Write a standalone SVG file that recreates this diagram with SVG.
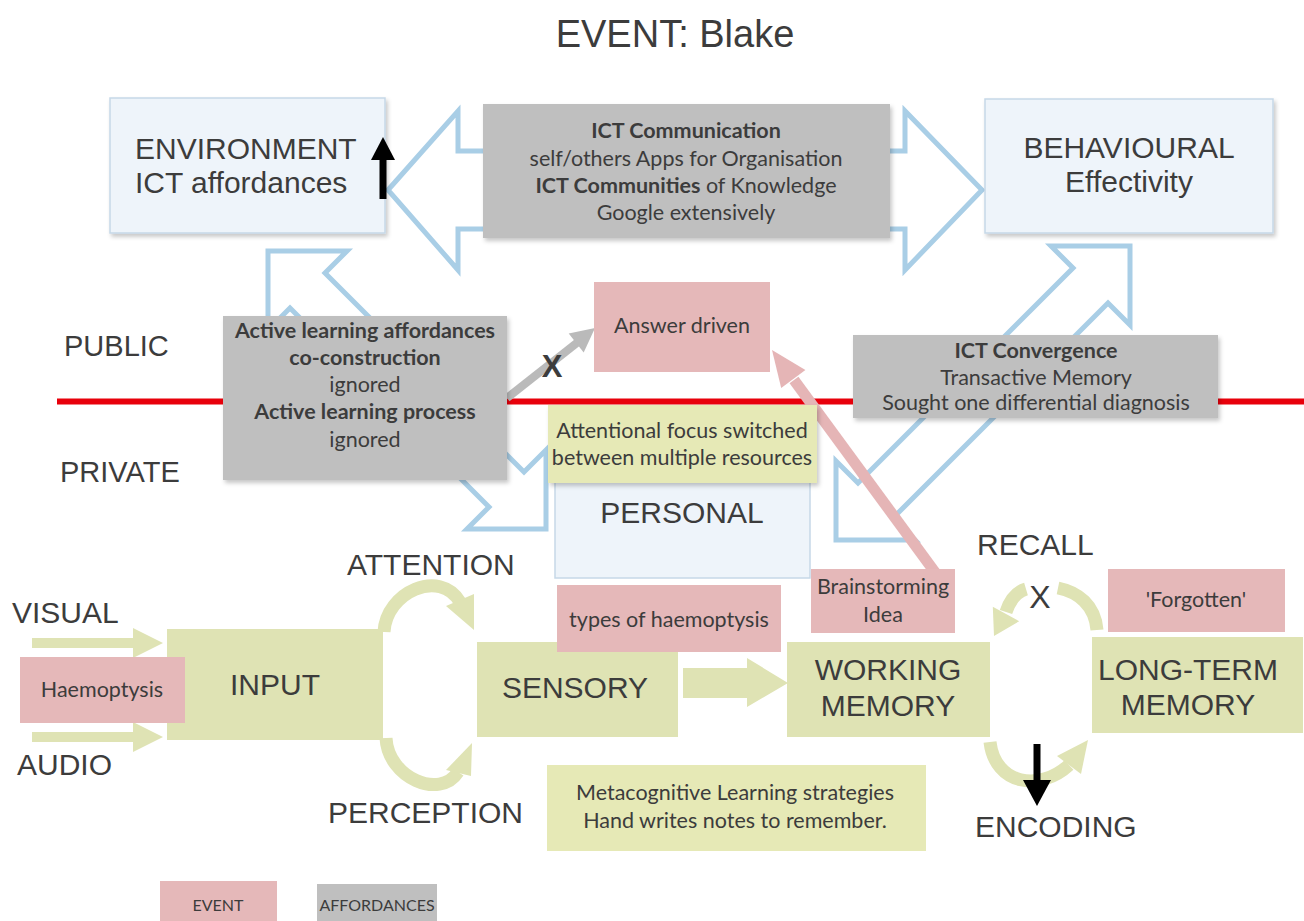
<svg xmlns="http://www.w3.org/2000/svg" width="1304" height="921" viewBox="0 0 1304 921">
  <defs>
    <filter id="shadow" x="-10%" y="-10%" width="120%" height="130%">
      <feDropShadow dx="2" dy="3" stdDeviation="2" flood-color="#000" flood-opacity="0.22"/>
    </filter>
    <style>
      .sans { font-family: "Liberation Sans", Arial, sans-serif; fill: #3c3c3c; }
      .cal { font-family: Lato, "Open Sans", sans-serif; fill: #3c3c3c; font-size: 21.5px; }
      .big { font-size: 30px; }
      .mid { text-anchor: middle; }
      .b { font-weight: bold; }
      .blueBox { fill: #eef4fa; stroke: #c6d8e7; stroke-width: 1.5; }
      .grayBox { fill: #bfbfbf; }
      .pinkBox { fill: #e5b8b9; }
      .oliveBox { fill: #dfe3b4; }
      .noteBox { fill: #e6e9b6; }
      .hollow { fill: none; stroke: #a9cee6; stroke-width: 5; stroke-linejoin: miter; }
      .olive { fill: #dfe3b4; }
      .oliveArc { fill: none; stroke: #dfe3b4; stroke-width: 13; }
    </style>
  </defs>

  <rect width="1304" height="921" fill="#ffffff"/>

  <!-- title -->
  <text class="sans mid" x="675" y="47" font-size="38">EVENT: Blake</text>

  <!-- public / private divide -->
  <line x1="57" y1="401.5" x2="1304" y2="401.5" stroke="#e8000b" stroke-width="6"/>
  <text class="sans" x="64" y="356" font-size="29">PUBLIC</text>
  <text class="sans" x="60" y="482" font-size="29">PRIVATE</text>

  <!-- connectors -->
  <g id="connectors">
    <!-- environment <-> behavioural -->
    <polygon class="hollow" points="388,190 458,111 458,151 905,151 905,111 982,190 905,270 905,229 458,229 458,270"/>
    <!-- environment <-> personal -->
    <polygon class="hollow" points="268,251 347,251 325,273 524,472 546,450 546,529 467,529 489,507 290,308 268,330"/>
    <!-- behavioural <-> personal -->
    <polygon class="hollow" points="1130,246 1130,325 1108,303 893,518 915,540 836,540 836,461 858,483 1073,268 1051,246"/>

    <!-- blocked route to answer -->
    <line x1="507" y1="398" x2="578" y2="342" stroke="#bababa" stroke-width="8"/>
    <polygon points="595,328 583.7,352.4 568.7,333.6" fill="#bababa"/>

    <!-- brainstorming back to answer -->
    <line x1="937" y1="575" x2="794" y2="380" stroke="#e5b5b6" stroke-width="11"/>
    <polygon points="772,350 805.4,370.1 781.2,387.9" fill="#e5b5b6"/>

    <!-- sensory inputs -->
    <polygon class="olive" points="32,638 133,638 133,628 163,643 133,658 133,648 32,648"/>
    <polygon class="olive" points="32,732 133,732 133,722 163,737 133,752 133,742 32,742"/>

    <!-- attention / perception loops -->
    <path class="oliveArc" d="M 384 632 C 386 592, 440 568, 460 602"/>
    <polygon class="olive" points="474,630 446,606 474,594"/>
    <path class="oliveArc" d="M 386 738 C 388 778, 440 800, 458 772"/>
    <polygon class="olive" points="472,743 446,770 471,776"/>

    <!-- sensory to working memory -->
    <polygon class="olive" points="683,668 747,668 747,658 788,683 747,707 747,698 683,698"/>

    <!-- recall loop -->
    <path class="oliveArc" d="M 1097 630 C 1095 605, 1078 592, 1058 588"/>
    <path class="oliveArc" d="M 1026 589 C 1016 592, 1010 600, 1006 612"/>
    <polygon class="olive" points="994,636 992.8,606.8 1019.2,621.2"/>

    <!-- encoding loop -->
    <path class="oliveArc" d="M 990 742 C 995 785, 1040 792, 1069 765"/>
    <polygon class="olive" points="1088,740 1057,756 1081,774"/>
  </g>

  <g id="environment">
    <rect class="blueBox" x="110" y="98" width="275" height="135" filter="url(#shadow)"/>
    <text class="sans big" x="135" y="159">ENVIRONMENT</text>
    <text class="sans big" x="135" y="193">ICT affordances</text>
  </g>

  <g id="behavioural">
    <rect class="blueBox" x="985" y="99" width="288" height="134" fill="#f2f8fc" filter="url(#shadow)"/>
    <text class="sans big mid" x="1129" y="158">BEHAVIOURAL</text>
    <text class="sans big mid" x="1129" y="192">Effectivity</text>
  </g>

  <g id="ict-communication">
    <rect class="grayBox" x="483" y="104" width="407" height="134" filter="url(#shadow)"/>
    <text class="cal mid" x="686" y="138"><tspan class="b">ICT Communication</tspan></text>
    <text class="cal mid" x="686" y="166">self/others Apps for Organisation</text>
    <text class="cal mid" x="686" y="193"><tspan class="b">ICT Communities</tspan> of Knowledge</text>
    <text class="cal mid" x="686" y="220">Google extensively</text>
  </g>

  <g id="active-learning">
    <rect class="grayBox" x="223" y="316" width="284" height="164" filter="url(#shadow)"/>
    <text class="cal mid b" x="365" y="338">Active learning affordances</text>
    <text class="cal mid b" x="365" y="365">co-construction</text>
    <text class="cal mid" x="365" y="392">ignored</text>
    <text class="cal mid b" x="365" y="419">Active learning process</text>
    <text class="cal mid" x="365" y="447">ignored</text>
  </g>

  <g id="answer-driven">
    <rect class="pinkBox" x="594" y="282" width="176" height="90"/>
    <text class="cal mid" x="682" y="333">Answer driven</text>
  </g>
  <text class="sans b mid" x="552" y="377" font-size="31" fill="#333">X</text>

  <g id="ict-convergence">
    <rect class="grayBox" x="853" y="335" width="365" height="83" filter="url(#shadow)"/>
    <text class="cal mid b" x="1036" y="358">ICT Convergence</text>
    <text class="cal mid" x="1036" y="385">Transactive Memory</text>
    <text class="cal mid" x="1036" y="410">Sought one differential diagnosis</text>
  </g>

  <g id="personal">
    <rect class="blueBox" x="555" y="468" width="255" height="110"/>
    <text class="sans big mid" x="682" y="523">PERSONAL</text>
  </g>

  <g id="attentional-focus">
    <rect class="noteBox" x="548" y="405" width="269" height="78" filter="url(#shadow)"/>
    <text class="cal mid" x="682" y="438">Attentional focus switched</text>
    <text class="cal mid" x="682" y="465">between multiple resources</text>
  </g>

  <!-- cognitive pipeline -->
  <text class="sans big" x="12" y="623">VISUAL</text>
  <text class="sans big" x="17" y="775">AUDIO</text>
  <text class="sans big" x="347" y="575">ATTENTION</text>
  <text class="sans big" x="328" y="823">PERCEPTION</text>
  <text class="sans big" x="977" y="555">RECALL</text>
  <text class="sans" x="1040" y="608" font-size="32" text-anchor="middle">X</text>
  <text class="sans big" x="975" y="837">ENCODING</text>

  <g id="input">
    <rect class="oliveBox" x="167" y="629" width="216" height="111"/>
    <text class="sans big mid" x="275" y="695">INPUT</text>
  </g>

  <g id="haemoptysis">
    <rect class="pinkBox" x="20" y="657" width="165" height="66"/>
    <text class="cal mid" x="102" y="697">Haemoptysis</text>
  </g>

  <g id="sensory">
    <rect class="oliveBox" x="477" y="642" width="201" height="95"/>
    <text class="sans big mid" x="575" y="698">SENSORY</text>
  </g>

  <g id="types-of-haemoptysis">
    <rect class="pinkBox" x="557" y="585" width="224" height="67"/>
    <text class="cal mid" x="669" y="627">types of haemoptysis</text>
  </g>

  <g id="working-memory">
    <rect class="oliveBox" x="787" y="642" width="203" height="95"/>
    <text class="sans big mid" x="888" y="680">WORKING</text>
    <text class="sans big mid" x="888" y="716">MEMORY</text>
  </g>

  <g id="brainstorming">
    <rect class="pinkBox" x="811" y="569" width="144" height="64"/>
    <text class="cal mid" x="883" y="594">Brainstorming</text>
    <text class="cal mid" x="883" y="622">Idea</text>
  </g>

  <g id="long-term-memory">
    <rect class="oliveBox" x="1092" y="637" width="211" height="96"/>
    <text class="sans big mid" x="1188" y="680">LONG-TERM</text>
    <text class="sans big mid" x="1188" y="715">MEMORY</text>
  </g>

  <g id="forgotten">
    <rect class="pinkBox" x="1108" y="569" width="177" height="63"/>
    <text class="cal mid" x="1196" y="607">'Forgotten'</text>
  </g>

  <g id="metacognitive">
    <rect class="noteBox" x="547" y="765" width="379" height="86"/>
    <text class="cal mid" x="735" y="800">Metacognitive Learning strategies</text>
    <text class="cal mid" x="735" y="828">Hand writes notes to remember.</text>
  </g>

  <!-- black direction marks, drawn over the boxes -->
  <g id="direction-marks">
    <line x1="383" y1="199" x2="383" y2="158" stroke="#000" stroke-width="7"/>
    <polygon points="383,137 371,160 395,160" fill="#000"/>
    <line x1="1037" y1="744" x2="1037" y2="782" stroke="#000" stroke-width="7"/>
    <polygon points="1037,806 1023,780 1051,780" fill="#000"/>
  </g>

  <!-- key -->
  <g id="legend-event">
    <rect class="pinkBox" x="160" y="881" width="117" height="40"/>
    <text class="cal mid" x="218" y="911" style="font-size:16px">EVENT</text>
  </g>
  <g id="legend-affordances">
    <rect class="grayBox" x="317" y="884" width="120" height="37"/>
    <text class="cal mid" x="377" y="911" style="font-size:16px">AFFORDANCES</text>
  </g>
</svg>
